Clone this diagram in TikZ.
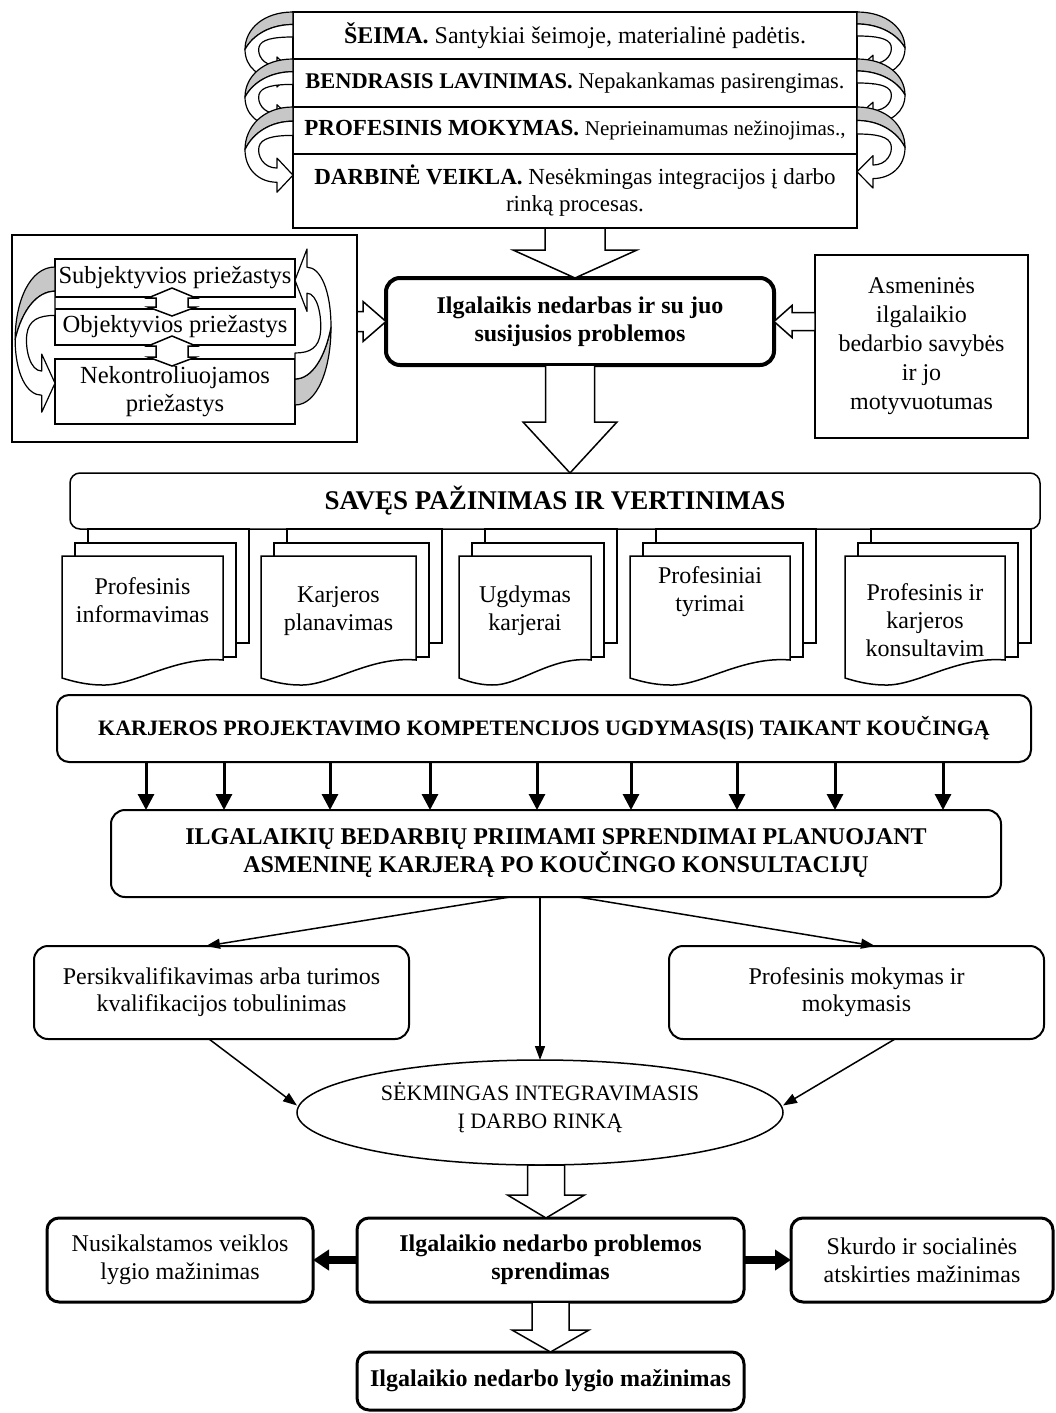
\documentclass[tikz,border=0pt]{standalone}
\usepackage{fontspec}
\setmainfont{Liberation Serif}
\usetikzlibrary{shapes.geometric, arrows.meta, positioning, calc}

\tikzstyle{rowbox} = [rectangle,
minimum width=282pt,
align=center,
inner sep=1pt,
draw=black, line width=0.9pt,
font=\fontsize{11.5}{13.5}\selectfont]
\tikzstyle{plainbox} = [rectangle,
align=center,
inner sep=1pt,
draw=black, line width=0.75pt,
font=\fontsize{12}{14}\selectfont]
\tikzstyle{mainbox} = [rectangle, rounded corners=7pt,
align=center,
draw=black, line width=2pt,
font=\bfseries\fontsize{12}{14}\selectfont]
\tikzstyle{roundbox} = [rectangle, rounded corners=6pt,
align=center,
draw=black, line width=1pt,
font=\fontsize{12}{13.5}\selectfont]
\tikzstyle{thickbox} = [rectangle, rounded corners=6pt,
align=center,
draw=black, line width=1.5pt,
font=\fontsize{12}{14}\selectfont]
\tikzstyle{docbox} = [rectangle,
minimum height=52pt,
align=center, inner sep=0pt,
font=\fontsize{12}{14}\selectfont]
\tikzstyle{hollow} = [draw=black, fill=white, line width=0.75pt, line join=miter]
\tikzstyle{front} = [draw=black, fill=white, line width=0.6pt, line join=round]
\tikzstyle{back} = [draw=black, fill=black!22, line width=0.6pt, line join=round]
\tikzstyle{arrow} = [line width=0.75pt, -{Triangle[width=5pt,length=7pt]}]
\tikzstyle{boldarrow} = [line width=1.5pt, -{Triangle[width=8pt,length=8pt]}]
\tikzstyle{fatarrow} = [line width=4pt, -{Triangle[width=10pt,length=8pt]}]

% hollow block arrows
\newcommand{\blockdown}[5]{\draw[hollow] let \p1=(#1), \p2=(#2) in
  ({\x1-#3},\y1) -- ({\x1-#3},{\y2+#5}) -- ({\x1-#4},{\y2+#5}) -- (\x1,\y2) --
  ({\x1+#4},{\y2+#5}) -- ({\x1+#3},{\y2+#5}) -- ({\x1+#3},\y1) -- cycle;}
\newcommand{\blockright}[5]{\draw[hollow] let \p1=(#1), \p2=(#2) in
  (\x1,{\y1+#3}) -- ({\x2-#5},{\y1+#3}) -- ({\x2-#5},{\y1+#4}) -- (\x2,\y1) --
  ({\x2-#5},{\y1-#4}) -- ({\x2-#5},{\y1-#3}) -- (\x1,{\y1-#3}) -- cycle;}
\newcommand{\blockleft}[5]{\draw[hollow] let \p1=(#1), \p2=(#2) in
  (\x1,{\y1+#3}) -- ({\x2+#5},{\y1+#3}) -- ({\x2+#5},{\y1+#4}) -- (\x2,\y1) --
  ({\x2+#5},{\y1-#4}) -- ({\x2+#5},{\y1-#3}) -- (\x1,{\y1-#3}) -- cycle;}
\newcommand{\dblarrow}[2]{\draw[hollow] let \p1=(#1), \p2=(#2) in
  (\x1,{\y1+4.5pt}) -- ({\x1+12pt},{\y1-0.5pt}) -- ({\x1+8pt},{\y1-0.5pt}) --
  ({\x1+8pt},{\y2+1pt}) -- ({\x1+12pt},{\y2+1pt}) -- (\x1,{\y2-3.5pt}) --
  ({\x1-12pt},{\y2+1pt}) -- ({\x1-8pt},{\y2+1pt}) -- ({\x1-8pt},{\y1-0.5pt}) --
  ({\x1-12pt},{\y1-0.5pt}) -- cycle;}
% curved arrow with shaded back
\newcommand{\curvarrow}[3]{%
  \begin{scope}[shift={(#1)}, xscale=#2, yscale=#3]
    \draw[back] (0,0) .. controls (-30,0) and (-48,14) .. (-48,30)
      .. controls (-40,18) and (-22,10) .. (0,10) -- cycle;
    \draw[front] (0,10) .. controls (-22,10) and (-40,18) .. (-48,30)
      .. controls (-48,44) and (-34,53) .. (-16,53) -- (-16,60) -- (0,48) -- (-16,36) -- (-16,43)
      .. controls (-30,43) and (-36,34) .. (-34,28) .. controls (-32,22) and (-20,20) .. (0,20) -- cycle;
  \end{scope}}
% stacked documents behind a front sheet (#3 = sheet offset from the text node)
\newcommand{\docstack}[3]{%
  \begin{scope}[shift={([yshift=#3]#1.north west)}]
    \draw[line width=0.75pt] (26,-13) -- (26,-27) -- ({#2+26},-27) -- ({#2+26},87) -- ({#2+13},87);
    \draw[line width=0.75pt] (13,0) -- (13,-13) -- ({#2+13},-13) -- ({#2+13},101) -- (#2,101);
    \draw[line width=0.75pt] (0,0) -- (#2,0) -- (#2,104)
      .. controls ({0.7*#2},100) and ({0.45*#2},130) .. ({0.25*#2},129)
      .. controls ({0.15*#2},129) and ({0.06*#2},125) .. (0,122) -- cycle;
  \end{scope}}

\begin{document}
\begin{tikzpicture}[x=0.5pt, y=-0.5pt, every node/.append style={outer sep=0pt}]

    \useasboundingbox (0,0) rectangle (1055,1413);

    \node (seima) [rowbox, minimum height=23.5pt, font=\fontsize{12}{14}\selectfont] at (575,35.5) {\textbf{ŠEIMA.} Santykiai šeimoje, materialinė padėtis.};
    \node (bendr) [rowbox, minimum height=24pt, below=0pt of seima, font=\fontsize{11.2}{13}\selectfont] {\textbf{BENDRASIS LAVINIMAS.} Nepakankamas pasirengimas.};
    \node (profm) [rowbox, minimum height=23.5pt, below=0pt of bendr] {\textbf{PROFESINIS MOKYMAS.} {\fontsize{10.5}{12}\selectfont Neprieinamumas nežinojimas.,}};
    \node (darb) [rowbox, minimum height=37pt, below=0pt of profm] {\textbf{DARBINĖ VEIKLA.} Nesėkmingas integracijos į darbo\\rinką procesas.};

    \node (ilg) [mainbox, minimum width=194pt, minimum height=43.5pt, below=25pt of darb, xshift=2.5pt] {Ilgalaikis nedarbas ir su juo\\susijusios problemos};

    \node (causes) [plainbox, minimum width=172.5pt, minimum height=103.5pt, left=14.5pt of ilg, yshift=-8.5pt] {};
    \node (subj) [plainbox, minimum width=120pt, minimum height=19pt, below right=12pt and 21.5pt of causes.north west, font=\fontsize{12.3}{14}\selectfont] {Subjektyvios priežastys};
    \node (obj) [plainbox, minimum width=120pt, minimum height=18pt, below=6pt of subj, font=\fontsize{12.3}{14}\selectfont] {Objektyvios priežastys};
    \node (nekon) [plainbox, minimum width=120pt, minimum height=32.5pt, below=7pt of obj, font=\fontsize{12.3}{14}\selectfont] {Nekontroliuojamos\\priežastys};

    \node (asmen) [plainbox, minimum width=106.5pt, minimum height=91.5pt, right=20.5pt of ilg, yshift=-12.5pt, font=\fontsize{12}{14.5}\selectfont] {Asmeninės\\ilgalaikio\\bedarbio savybės\\ir jo\\motyvuotumas};

    \node (saves) [roundbox, rounded corners=5pt, line width=0.75pt, minimum width=485pt, minimum height=28pt, below=54pt of ilg, xshift=-12.5pt, font=\bfseries\fontsize{13.5}{16}\selectfont] {SAVĘS PAŽINIMAS IR VERTINIMAS};

    \node (doc1) [docbox, minimum width=80.5pt, below right=9.5pt and -4pt of saves.south west] {Profesinis\\informavimas};
    \node (doc2) [docbox, minimum width=77.5pt, below right=15pt and 95.5pt of saves.south west] {Karjeros\\planavimas};
    \node (doc3) [docbox, minimum width=66pt, below right=15pt and 194.5pt of saves.south west] {Ugdymas\\karjerai};
    \node (doc4) [docbox, minimum width=80pt, below right=5.5pt and 280pt of saves.south west] {Profesiniai\\tyrimai};
    \node (doc5) [docbox, minimum width=80pt, below right=19.5pt and 387.5pt of saves.south west] {Profesinis ir\\karjeros\\konsultavim};

    \node (karj) [roundbox, minimum width=487pt, minimum height=33.5pt, below=83pt of saves, xshift=-5.5pt, font=\bfseries\fontsize{11}{13}\selectfont] {KARJEROS PROJEKTAVIMO KOMPETENCIJOS UGDYMAS(IS) TAIKANT KOUČINGĄ};
    \node (ilgb) [roundbox, rounded corners=7pt, minimum width=445pt, minimum height=43.5pt, below=24pt of karj, xshift=6pt, font=\bfseries\fontsize{12}{14}\selectfont] {ILGALAIKIŲ BEDARBIŲ PRIIMAMI SPRENDIMAI PLANUOJANT\\ASMENINĘ KARJERĄ PO KOUČINGO KONSULTACIJŲ};

    \node (persk) [roundbox, rounded corners=7pt, minimum width=187.5pt, minimum height=46.5pt, below=24.5pt of ilgb, xshift=-167.25pt] {Persikvalifikavimas arba turimos\\kvalifikacijos tobulinimas};
    \node (profmok) [roundbox, rounded corners=7pt, minimum width=187.5pt, minimum height=46.5pt, below=24.5pt of ilgb, xshift=150.25pt] {Profesinis mokymas ir\\mokymasis};
    \node (sekm) [ellipse, draw=black, line width=0.75pt, inner sep=0pt, minimum width=243pt, minimum height=52.5pt, below=81.5pt of ilgb, xshift=-8pt, align=center, font=\fontsize{11}{14}\selectfont] {SĖKMINGAS INTEGRAVIMASIS\\Į DARBO RINKĄ\\[-7pt]\mbox{}};

    \node (probl) [mainbox, rounded corners=6pt, line width=1.5pt, minimum width=193.5pt, minimum height=42pt, below=26.5pt of sekm, xshift=5.25pt] {Ilgalaikio nedarbo problemos\\sprendimas};
    \node (nusik) [thickbox, minimum width=133pt, minimum height=42pt, left=22pt of probl] {Nusikalstamos veiklos\\lygio mažinimas};
    \node (skurd) [thickbox, minimum width=131pt, minimum height=42pt, right=23.5pt of probl] {Skurdo ir socialinės\\atskirties mažinimas};
    \node (final) [mainbox, rounded corners=6pt, line width=1.5pt, minimum width=193.5pt, minimum height=29pt, below=25pt of probl] {Ilgalaikio nedarbo lygio mažinimas};

    % curved arrows round the top box
    \curvarrow{seima.north west}{1}{1.25}
    \curvarrow{bendr.north west}{1}{1.27}
    \curvarrow{profm.north west}{1}{1.42}
    \curvarrow{seima.north east}{-1}{1.2}
    \curvarrow{bendr.north east}{-1}{1.2}
    \curvarrow{profm.north east}{-1}{1.35}

    % causes
    \curvarrow{[yshift=-4pt]subj.north west}{0.83}{2.42}
    \curvarrow{[yshift=9.5pt]nekon.south east}{-0.75}{-2.6}
    \dblarrow{[xshift=-1.5pt]subj.south}{obj.north}
    \dblarrow{[xshift=-1.5pt]obj.south}{nekon.north}

    \docstack{doc1}{161}{-4pt}
    \docstack{doc2}{155}{1.5pt}
    \docstack{doc3}{132}{1.5pt}
    \docstack{doc4}{160}{-8pt}
    \docstack{doc5}{160}{6pt}

    \blockdown{darb.south}{ilg.north}{15pt}{31pt}{14pt}
    \blockright{causes.east |- ilg.west}{ilg.west}{5pt}{10pt}{11.5pt}
    \blockleft{asmen.west |- ilg.east}{ilg.east}{4.5pt}{8pt}{9pt}
    \blockdown{[xshift=-5pt]ilg.south}{saves.north}{12.25pt}{23.5pt}{25.5pt}

    \draw [boldarrow] ([xshift=-199pt]karj.south) -- ([xshift=-205pt]ilgb.north);
    \draw [boldarrow] ([xshift=-160pt]karj.south) -- ([xshift=-166pt]ilgb.north);
    \draw [boldarrow] ([xshift=-107pt]karj.south) -- ([xshift=-113pt]ilgb.north);
    \draw [boldarrow] ([xshift=-57pt]karj.south) -- ([xshift=-63pt]ilgb.north);
    \draw [boldarrow] ([xshift=-3.5pt]karj.south) -- ([xshift=-9.5pt]ilgb.north);
    \draw [boldarrow] ([xshift=43.5pt]karj.south) -- ([xshift=37.5pt]ilgb.north);
    \draw [boldarrow] ([xshift=96.5pt]karj.south) -- ([xshift=90.5pt]ilgb.north);
    \draw [boldarrow] ([xshift=145.5pt]karj.south) -- ([xshift=139.5pt]ilgb.north);
    \draw [boldarrow] ([xshift=199.5pt]karj.south) -- ([xshift=193.5pt]ilgb.north);

    \draw [arrow] ([xshift=-23pt]ilgb.south) -- ([xshift=-7.75pt]persk.north);
    \draw [arrow] ([xshift=11pt]ilgb.south) -- ([xshift=9.25pt]profmok.north);
    \draw [arrow] (sekm.north |- ilgb.south) -- (sekm.north);
    \draw [arrow] ([xshift=-6.25pt]persk.south) -- ([yshift=3.5pt]sekm.west);
    \draw [arrow] ([xshift=19.25pt]profmok.south) -- ([yshift=3.5pt]sekm.east);

    \blockdown{[xshift=3pt]sekm.south}{probl.north}{9.25pt}{19.25pt}{11.5pt}
    \draw [fatarrow] (probl.west) -- (nusik.east);
    \draw [fatarrow] (probl.east) -- (skurd.west);
    \blockdown{probl.south}{final.north}{9.25pt}{19.25pt}{11pt}

  \end{tikzpicture}
\end{document}
